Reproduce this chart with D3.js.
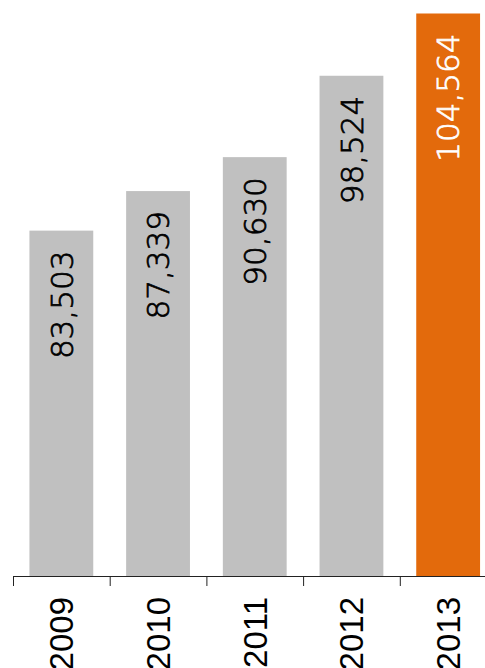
<!DOCTYPE html>
<html>
<head>
<meta charset="utf-8">
<script src="https://cdn.jsdelivr.net/npm/d3@7"></script>
<style>
  html, body { margin: 0; padding: 0; background: #fff; }
  svg { display: block; }
</style>
</head>
<body>
<svg id="chart" width="485" height="668"></svg>
<script>
// Annual totals, 2009–2013
const years = ["2009", "2010", "2011", "2012", "2013"];
const totals = [83503, 87339, 90630, 98524, 104564];
const highlightYear = "2013";

const W = 485, H = 668;
const axisY = 576;
const left = 13, right = 496.5;

const svg = d3.select("#chart");

const x = d3.scaleBand()
  .domain(years)
  .range([left, right])
  .paddingInner(0.34)
  .paddingOuter(0.17);

// Value axis starts at 50,000 (truncated baseline)
const y = d3.scaleLinear()
  .domain([50000, 105000])
  .range([axisY, 9]);

const data = years.map((yr, i) => ({ year: yr, value: totals[i] }));
const fmt = d3.format(",");

// Bars
svg.append("g")
  .selectAll("rect")
  .data(data)
  .join("rect")
  .attr("x", d => x(d.year))
  .attr("y", d => y(d.value))
  .attr("width", x.bandwidth())
  .attr("height", d => axisY - y(d.value))
  .attr("fill", d => d.year === highlightYear ? "#e36a0c" : "#c0c0c0");

// Value labels, rotated inside each bar near its top
svg.append("g")
  .selectAll("text")
  .data(data)
  .join("text")
  .attr("transform", d => `translate(${x(d.year) + x.bandwidth() / 2},${y(d.value) + 20}) rotate(-90)`)
  .attr("text-anchor", "end")
  .attr("dy", "0.36em")
  .attr("font-family", "'DejaVu Sans', sans-serif")
  .attr("font-weight", 300)
  .attr("font-size", 31)
  .attr("fill", d => d.year === highlightYear ? "#ffffff" : "#000000")
  .attr("stroke", d => d.year === highlightYear ? "#ffffff" : "#000000")
  .attr("stroke-width", 0.75)
  .text(d => fmt(d.value));

// Category axis: ticks sit on the boundaries between bands
const edge = d3.scaleLinear().domain([0, years.length]).range([left, right]);
const axis = svg.append("g")
  .attr("transform", `translate(0,${axisY})`)
  .call(d3.axisBottom(edge)
    .tickValues(d3.range(years.length + 1))
    .tickFormat("")
    .tickSize(10)
    .tickSizeOuter(0));
axis.select(".domain").attr("stroke", "#222").attr("stroke-width", 1);
axis.selectAll(".tick line").attr("stroke", "#222").attr("stroke-width", 1);

// Year labels
svg.append("g")
  .selectAll("text")
  .data(years)
  .join("text")
  .attr("transform", d => `translate(${x(d) + x.bandwidth() / 2},597) rotate(-90)`)
  .attr("text-anchor", "end")
  .attr("dy", "0.36em")
  .attr("font-family", "'Liberation Sans', Arial, sans-serif")
  .attr("font-size", 33)
  .attr("fill", "#000")
  .text(d => d);
</script>
</body>
</html>
